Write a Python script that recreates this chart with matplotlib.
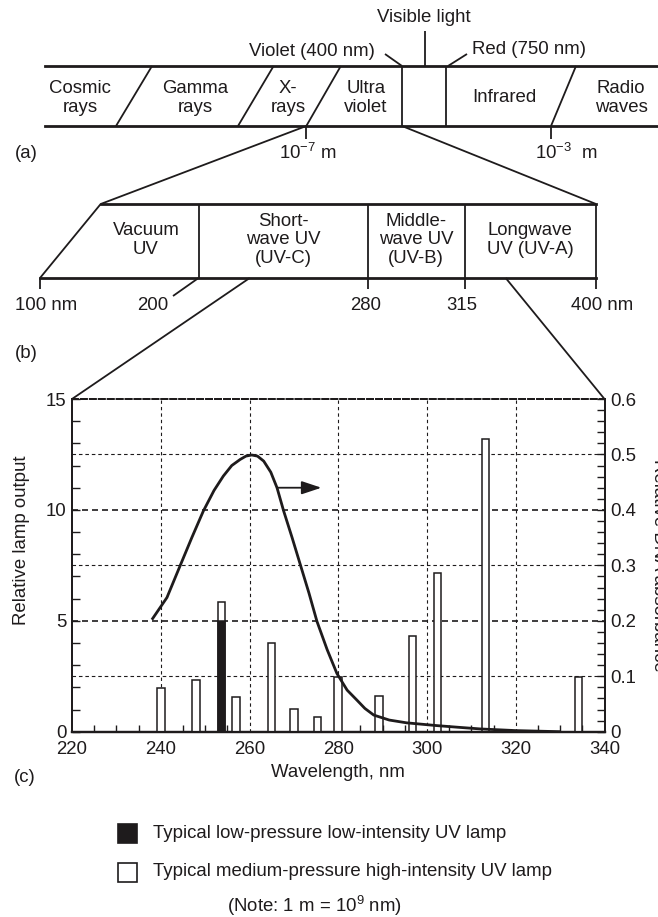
import matplotlib
matplotlib.use("Agg")
import matplotlib.pyplot as plt
from matplotlib.patches import Rectangle
from matplotlib.ticker import MultipleLocator

plt.rcParams["font.family"] = ["Liberation Sans", "DejaVu Sans"]
plt.rcParams["mathtext.default"] = "regular"
FS = 13.4
plt.rcParams["font.size"] = FS

INK = "#1e1b1c"

# Medium-pressure mercury lamp emission lines (nm) and relative output
mp_wavelength = [240.0, 248.0, 253.7, 257.0, 265.0, 270.0, 275.3, 280.0,
                 289.2, 296.7, 302.4, 313.2, 334.1]
mp_output = [1.95, 2.35, 5.85, 1.55, 4.0, 1.03, 0.68, 2.45,
             1.6, 4.33, 7.17, 13.2, 2.45]

# Low-pressure lamp: the 253.7 nm resonance line
lp_wavelength = [253.7]
lp_output = [5.0]

# Relative DNA absorbance (right axis)
dna_wavelength = [238.0, 241.4, 244.4, 247.0, 249.6, 252.0, 254.1, 256.0, 257.9,
                  259.2, 260.5, 261.8, 263.2, 264.8, 266.2, 267.7, 269.6, 271.5,
                  273.4, 275.2, 277.5, 279.7, 282.0, 284.2, 286.0, 288.0, 291.5,
                  295.4, 302.2, 307.0, 312.0, 320.0, 330.0]
dna_absorbance = [0.202, 0.242, 0.300, 0.350, 0.398, 0.435, 0.461, 0.480, 0.491,
                  0.497, 0.499, 0.497, 0.488, 0.468, 0.440, 0.398, 0.350, 0.300,
                  0.250, 0.199, 0.148, 0.105, 0.075, 0.057, 0.042, 0.030, 0.021,
                  0.016, 0.011, 0.008, 0.005, 0.002, 0.000]

x_ticks = [220, 240, 260, 280, 300, 320, 340]
left_ticks = [0, 5, 10, 15]
right_ticks = [0, 0.1, 0.2, 0.3, 0.4, 0.5, 0.6]

# Electromagnetic spectrum strip (a)
spectrum_labels = ["Cosmic\nrays", "Gamma\nrays", "X-\nrays", "Ultra\nviolet",
                   "Infrared", "Radio\nwaves"]
spectrum_label_x = [80, 195, 288, 366, 504, 621]

# UV sub-bands strip (b)
uv_labels = ["Vacuum\nUV", "Short-\nwave UV\n(UV-C)", "Middle-\nwave UV\n(UV-B)",
             "Longwave\nUV (UV-A)"]
uv_label_x = [146, 283, 416, 530]
uv_edges = ["100 nm", "200", "280", "315", "400 nm"]

W, H = 658, 917
fig = plt.figure(figsize=(W / 100, H / 100), dpi=100)

# layout in pixels
AX_L, AX_R, AX_T, AX_B = 72.0, 604.5, 399.0, 731.7
ax = fig.add_axes([AX_L / W, (H - AX_B) / H, (AX_R - AX_L) / W, (AX_B - AX_T) / H])

ov = fig.add_axes([0, 0, 1, 1], zorder=-1)
ov.set_xlim(0, W)
ov.set_ylim(H, 0)
ov.axis("off")

lk = dict(color=INK, lw=1.3, solid_capstyle="butt")
LS = 1.08

# ---------- (a) spectrum strip ----------
a_top, a_bot = 66, 126
ov.plot([45, W], [a_top, a_top], color=INK, lw=2.0)
ov.plot([45, W], [a_bot, a_bot], color=INK, lw=2.0)
for xt, xb in [(152, 116), (273.6, 238), (340.8, 306.3), (576, 551)]:
    ov.plot([xt, xb], [a_top, a_bot], **lk)
for xv in [402, 445.7]:
    ov.plot([xv, xv], [a_top, a_bot], **lk)
for lab, xl in zip(spectrum_labels, spectrum_label_x):
    ov.text(xl, (a_top + a_bot) / 2 + 2, lab, ha="center", va="center",
            color=INK, linespacing=LS)
ov.text(424, 18, "Visible light", ha="center", va="center", color=INK)
ov.plot([424.5, 424.5], [31, a_top], **lk)
ov.text(375, 51, "Violet (400 nm)", ha="right", va="center", color=INK)
ov.plot([385, 402], [54, a_top], **lk)
ov.text(472, 49, "Red (750 nm)", ha="left", va="center", color=INK)
ov.plot([467, 448], [54, a_top], **lk)
ov.plot([306.3, 306.3], [a_bot, a_bot + 13], **lk)
ov.plot([551, 551], [a_bot, a_bot + 13], **lk)
ov.text(308, 153, r"$10^{-7}$ m", ha="center", va="center", color=INK)
ov.text(566, 153, r"$10^{-3}$  m", ha="center", va="center", color=INK)
ov.text(26, 153, "(a)", ha="center", va="center", color=INK)

# ---------- (b) UV strip ----------
b_top, b_bot = 204, 278
b_left_bot, b_left_top, b_right = 40, 100.7, 596
ov.plot([b_left_top, b_right], [b_top, b_top], color=INK, lw=2.0)
ov.plot([b_left_bot, b_right], [b_bot, b_bot], color=INK, lw=2.0)
ov.plot([b_left_bot, b_left_top], [b_bot, b_top], **lk)
for xv in [198.5, 368.4, 465, b_right]:
    ov.plot([xv, xv], [b_top, b_bot], **lk)
for xv in [b_left_bot, 368.4, 465, b_right]:
    ov.plot([xv, xv], [b_bot, b_bot + 11], **lk)
ov.plot([198.5, 173], [b_bot, 296], **lk)
for lab, xl in zip(uv_labels, uv_label_x):
    ov.text(xl, (b_top + b_bot) / 2 - 1, lab, ha="center", va="center",
            color=INK, linespacing=LS)
for lab, xl in zip(uv_edges, [46, 153, 366, 462, 602]):
    ov.text(xl, 306, lab, ha="center", va="center", color=INK)
ov.text(26, 353, "(b)", ha="center", va="center", color=INK)

# expansion lines
ov.plot([306.3, b_left_top], [a_bot, b_top], **lk)
ov.plot([402, b_right], [a_bot, b_top], **lk)
ov.plot([249.7, AX_L], [b_bot, AX_T], **lk)
ov.plot([505.7, AX_R], [b_bot, AX_T], **lk)

# ---------- (c) chart ----------
ax.set_xlim(220, 340)
ax.set_ylim(0, 15)
ax2 = ax.twinx()
ax2.set_ylim(0, 0.6)

for yv in [2.5, 7.5, 12.5]:
    ax.axhline(yv, color=INK, lw=0.8, ls=(0, (3.2, 2.6)), zorder=1)
for yv in [5, 10]:
    ax.axhline(yv, color=INK, lw=1.2, ls=(0, (3.6, 2.4)), zorder=1)
for xv in [240, 260, 280, 300, 320]:
    ax.axvline(xv, color=INK, lw=0.8, ls=(0, (3.0, 2.8)), zorder=1)

bw = 1.7
ax.bar(mp_wavelength, mp_output, width=bw, color="white", edgecolor=INK,
       linewidth=1.1, zorder=3)
ax.bar(lp_wavelength, lp_output, width=bw, color=INK, edgecolor=INK,
       linewidth=1.1, zorder=4)

ax2.plot(dna_wavelength, dna_absorbance, color=INK, lw=2.0, zorder=5,
         solid_capstyle="butt")
ax2.annotate("", xy=(276.2, 0.44), xytext=(266.4, 0.44),
             arrowprops=dict(arrowstyle="-|>,head_length=0.9,head_width=0.3",
                             color=INK, lw=1.3, shrinkA=0, shrinkB=0))

for a in (ax, ax2):
    a.spines["top"].set_linestyle((0, (3.0, 1.6)))
    a.spines["top"].set_linewidth(1.4)
    a.spines["bottom"].set_linewidth(1.6)
    a.spines["left"].set_linewidth(1.3)
    a.spines["right"].set_linewidth(1.3)
    for s in a.spines.values():
        s.set_color(INK)
    a.patch.set_visible(False)

ax.set_xticks(x_ticks)
ax.set_xticklabels([str(v) for v in x_ticks])
ax.xaxis.set_minor_locator(MultipleLocator(5))
ax.set_yticks(left_ticks)
ax.set_yticklabels([str(v) for v in left_ticks])
ax.yaxis.set_minor_locator(MultipleLocator(1))
ax2.set_yticks(right_ticks)
ax2.set_yticklabels(["0", "0.1", "0.2", "0.3", "0.4", "0.5", "0.6"])
ax2.yaxis.set_minor_locator(MultipleLocator(0.02))

ax.tick_params(axis="both", which="both", direction="in", color=INK,
               labelcolor=INK, labelsize=FS, top=False, right=False)
ax.tick_params(axis="x", which="major", length=0, pad=7)
ax.tick_params(axis="x", which="minor", length=5, width=1.0)
ax.tick_params(axis="y", which="major", length=6, width=1.0, pad=4)
ax.tick_params(axis="y", which="minor", length=6, width=1.0)
ax2.tick_params(axis="y", which="both", direction="in", color=INK,
                labelcolor=INK, labelsize=FS)
ax2.tick_params(axis="y", which="major", length=6, width=1.0, pad=4)
ax2.tick_params(axis="y", which="minor", length=6, width=1.0)

ax.set_xlabel("Wavelength, nm", color=INK, fontsize=FS, labelpad=4)
ax.set_ylabel("Relative lamp output", color=INK, fontsize=FS)
ax.yaxis.set_label_coords(-(AX_L - 30) / (AX_R - AX_L), (AX_B - 540) / (AX_B - AX_T))

fig.text(659 / W, 1 - 565 / H, "Relative DNA absorbance", rotation=270,
         ha="center", va="center", color=INK, fontsize=FS)
ov.text(25, 777, "(c)", ha="center", va="center", color=INK)

# ---------- legend ----------
ov.add_patch(Rectangle((117.5, 824), 19, 19, facecolor=INK, edgecolor=INK, lw=1.2))
ov.add_patch(Rectangle((117.5, 863), 19, 19, facecolor="white", edgecolor=INK, lw=1.2))
ov.text(153, 834, "Typical low-pressure low-intensity UV lamp", ha="left",
        va="center", color=INK)
ov.text(153, 872, "Typical medium-pressure high-intensity UV lamp", ha="left",
        va="center", color=INK)
ov.text(314, 906, r"(Note: 1 m = 10$^{9}$ nm)", ha="center", va="center", color=INK)

fig.savefig("out.png", dpi=100)
